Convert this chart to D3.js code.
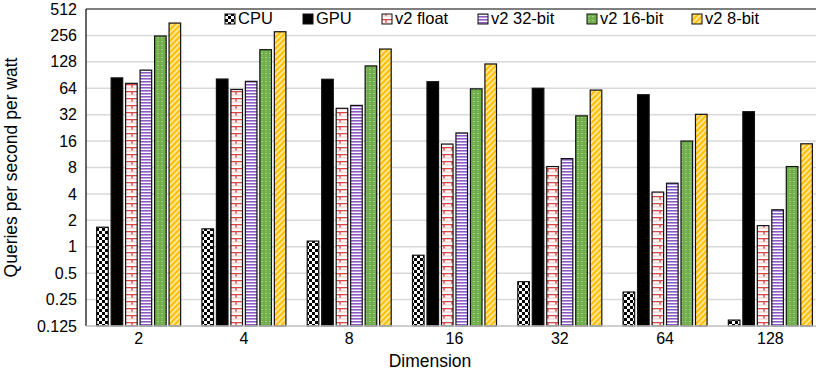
<!DOCTYPE html>
<html>
<head>
<meta charset="utf-8">
<script src="https://cdn.jsdelivr.net/npm/d3@7"></script>
<style>
  body { margin: 0; background: #fff; }
  svg { display: block; font-family: "Liberation Sans", Arial, sans-serif; }
</style>
</head>
<body>
<svg id="chart"></svg>
<script>
// values (log2 y axis)
const dims = ["2", "4", "8", "16", "32", "64", "128"];
const seriesNames = ["CPU", "GPU", "v2 float", "v2 32-bit", "v2 16-bit", "v2 8-bit"];
const cpu = [1.67, 1.6, 1.16, 0.8, 0.4, 0.305, 0.146];
const gpu = [84, 81.5, 81, 76, 64, 54, 34.6];
const v2Float = [72.8, 62, 37.8, 14.8, 8.2, 4.2, 1.74];
const v2Bit32 = [103, 76.7, 40.8, 19.8, 10.1, 5.3, 2.64];
const v2Bit16 = [252, 176, 115, 63, 31, 16, 8.2];
const v2Bit8 = [354, 282, 179, 121, 61, 32.3, 14.9];
const yTicks = [0.125, 0.25, 0.5, 1, 2, 4, 8, 16, 32, 64, 128, 256, 512];
const yTickLabels = ["0.125", "0.25", "0.5", "1", "2", "4", "8", "16", "32", "64", "128", "256", "512"];

const seriesValues = [cpu, gpu, v2Float, v2Bit32, v2Bit16, v2Bit8];
const fills = ["url(#pCheck)", "#000", "url(#pBrick)", "url(#pStripe)", "url(#pDots)", "url(#pDiag)"];

const W = 816, H = 378;
const plot = { left: 86, right: 823, top: 9, bottom: 326 };
const font = '"Liberation Sans", Arial, sans-serif';

const svg = d3.select('#chart').attr('width', W).attr('height', H);

// ---- patterns
const defs = svg.append('defs');

let p = defs.append('pattern').attr('id', 'pCheck').attr('patternUnits', 'userSpaceOnUse')
    .attr('width', 6).attr('height', 6);
p.append('rect').attr('width', 6).attr('height', 6).attr('fill', '#fff');
p.append('rect').attr('width', 3).attr('height', 3).attr('fill', '#000');
p.append('rect').attr('x', 3).attr('y', 3).attr('width', 3).attr('height', 3).attr('fill', '#000');

p = defs.append('pattern').attr('id', 'pBrick').attr('patternUnits', 'userSpaceOnUse')
    .attr('width', 8).attr('height', 7);
p.append('rect').attr('width', 8).attr('height', 7).attr('fill', '#fff');
p.append('rect').attr('y', 0).attr('width', 8).attr('height', 1.3).attr('fill', '#d94848');
p.append('rect').attr('x', 3.3).attr('y', 0).attr('width', 1.4).attr('height', 4).attr('fill', '#d94848');
p.append('rect').attr('y', 3.5).attr('width', 8).attr('height', 1).attr('fill', '#f4c4c4');

p = defs.append('pattern').attr('id', 'pStripe').attr('patternUnits', 'userSpaceOnUse')
    .attr('width', 4).attr('height', 3);
p.append('rect').attr('width', 4).attr('height', 3).attr('fill', '#fff');
p.append('rect').attr('width', 4).attr('height', 1.6).attr('fill', '#8a5cc4');

p = defs.append('pattern').attr('id', 'pDots').attr('patternUnits', 'userSpaceOnUse')
    .attr('width', 4).attr('height', 4);
p.append('rect').attr('width', 4).attr('height', 4).attr('fill', '#6fae4a');
p.append('rect').attr('x', 1.5).attr('y', 1).attr('width', 1).attr('height', 1).attr('fill', '#d8ecc8');
p.append('rect').attr('x', 1.5).attr('y', 3).attr('width', 1).attr('height', 0.6).attr('fill', '#a9d18e');

p = defs.append('pattern').attr('id', 'pDiag').attr('patternUnits', 'userSpaceOnUse')
    .attr('width', 4).attr('height', 4).attr('patternTransform', 'rotate(45)');
p.append('rect').attr('width', 4).attr('height', 4).attr('fill', '#ffe9a6');
p.append('rect').attr('width', 2.2).attr('height', 4).attr('fill', '#ffc000');

// ---- scales
const x0 = d3.scaleBand().domain(dims).range([plot.left, plot.right]);
const groupW = 84;
const x1 = d3.scaleBand().domain(seriesNames).range([0, groupW]).paddingInner(0.2);
const y = d3.scaleLog().base(2).domain([0.125, 512]).range([plot.bottom, plot.top]);

// gridlines
svg.append('g')
    .selectAll('line')
    .data(yTicks.slice(1, -1))
    .join('line')
    .attr('x1', plot.left).attr('x2', plot.right)
    .attr('y1', d => y(d)).attr('y2', d => y(d))
    .attr('stroke', '#d9d9d9').attr('stroke-width', 1.5);

// bars
const rows = [];
dims.forEach((d, i) => {
    seriesNames.forEach((s, j) => rows.push({ dim: d, name: s, value: seriesValues[j][i], fill: fills[j] }));
});

svg.append('g')
    .selectAll('rect')
    .data(rows)
    .join('rect')
    .attr('x', d => x0(d.dim) + (x0.bandwidth() - groupW) / 2 + x1(d.name))
    .attr('width', x1.bandwidth())
    .attr('y', d => y(d.value))
    .attr('height', d => y(0.125) - y(d.value))
    .attr('fill', d => d.fill)
    .attr('stroke', '#111')
    .attr('stroke-width', 1.2);

// plot frame
svg.append('line').attr('x1', plot.left).attr('x2', plot.right)
    .attr('y1', plot.top).attr('y2', plot.top).attr('stroke', '#000').attr('stroke-width', 1.2);
svg.append('line').attr('x1', plot.left).attr('x2', plot.left)
    .attr('y1', plot.top).attr('y2', plot.bottom).attr('stroke', '#000').attr('stroke-width', 1.2);
svg.append('line').attr('x1', plot.left).attr('x2', plot.right)
    .attr('y1', plot.bottom).attr('y2', plot.bottom).attr('stroke', '#bfbfbf').attr('stroke-width', 1.5);

// y axis labels
const yAxis = d3.axisLeft(y).tickValues(yTicks)
    .tickFormat((d, i) => yTickLabels[i]).tickSize(0).tickPadding(9);
const yAxisG = svg.append('g').attr('transform', `translate(${plot.left},0)`).call(yAxis);
yAxisG.select('.domain').remove();
yAxisG.selectAll('text').attr('font-size', 16).attr('fill', '#000').attr('font-family', font);

// x axis labels
const xAxis = d3.axisBottom(x0).tickSize(0).tickPadding(7);
const xAxisG = svg.append('g').attr('transform', `translate(0,${plot.bottom})`).call(xAxis);
xAxisG.select('.domain').remove();
xAxisG.selectAll('text').attr('font-size', 16).attr('fill', '#000').attr('font-family', font);

// axis titles
svg.append('text')
    .attr('transform', `translate(12,${(plot.top + plot.bottom) / 2}) rotate(-90)`)
    .attr('text-anchor', 'middle').attr('dominant-baseline', 'middle')
    .attr('font-size', 17.5).text('Queries per second per watt');
svg.append('text')
    .attr('x', 430).attr('y', 367)
    .attr('text-anchor', 'middle').attr('font-size', 17.5).text('Dimension');

// legend
const legendX = [225, 303, 382, 478, 587, 692];
const legend = svg.append('g');
const items = legend.selectAll('g').data(seriesNames).join('g')
    .attr('transform', (d, i) => `translate(${legendX[i]},19)`);
items.append('rect')
    .attr('x', 0).attr('y', -5).attr('width', 10).attr('height', 10)
    .attr('fill', (d, i) => fills[i]).attr('stroke', '#111').attr('stroke-width', 1);
items.append('text')
    .attr('x', 13).attr('y', 0.5).attr('dominant-baseline', 'middle')
    .attr('font-size', 16.5).text(d => d);
</script>
</body>
</html>
